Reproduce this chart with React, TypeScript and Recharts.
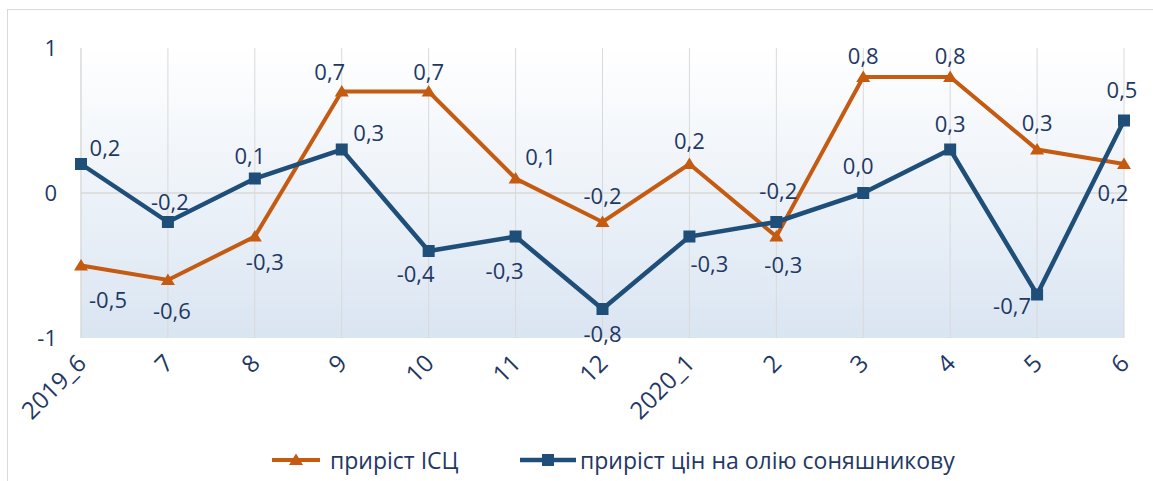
import React from 'react';
import { LineChart, Line, XAxis, YAxis, CartesianGrid, ReferenceLine } from 'recharts';

const categories = ['2019_6', '7', '8', '9', '10', '11', '12', '2020_1', '2', '3', '4', '5', '6'];
const cpiGrowth = [-0.5, -0.6, -0.3, 0.7, 0.7, 0.1, -0.2, 0.2, -0.3, 0.8, 0.8, 0.3, 0.2];
const oilGrowth = [0.2, -0.2, 0.1, 0.3, -0.4, -0.3, -0.8, -0.3, -0.2, 0.0, 0.3, -0.7, 0.5];
const yTicks = [-1, 0, 1];
const seriesNames = ['приріст ІСЦ', 'приріст цін на олію соняшникову'];

// label placement offsets (relative to the point), styling only
const cpiLabelOffsets: [number, number][] = [
  [27, 33], [4, 30], [10, 24], [-12, -21], [0, -21], [25, -23], [0, -27],
  [0, -24], [7, 27], [0, -22], [0, -22], [0, -28], [-11, 28],
];
const oilLabelOffsets: [number, number][] = [
  [24, -17], [2, -21], [-5, -24], [27, -18], [-13, 22], [-11, 33], [0, 24],
  [20, 26], [2, -32], [-5, -28], [0, -27], [-25, 10], [-2, -32],
];

const data = categories.map((c, i) => ({ cat: c, cpi: cpiGrowth[i], oil: oilGrowth[i] }));

const ORANGE = '#C55A11';
const BLUE = '#1F4E79';
const TEXT = '#1F3864';
const FONT = '"Open Sans", sans-serif';

const fmt = (v: number) => v.toFixed(1).replace('.', ',');

const makeLabel = (offsets: [number, number][]) => (props: any) => {
  const { x, y, value, index } = props;
  const [dx, dy] = offsets[index] || [0, -20];
  return (
    <text x={x + dx} y={y + dy} textAnchor="middle" dominantBaseline="central"
      fontSize={22} fill={TEXT} fontFamily={FONT}>
      {fmt(value)}
    </text>
  );
};

const Triangle = (props: any) => {
  const { cx, cy } = props;
  if (cx == null || cy == null) return null;
  return <path d={`M${cx},${cy - 6.5} L${cx + 7},${cy + 5} L${cx - 7},${cy + 5} Z`} fill={ORANGE} />;
};

const Square = (props: any) => {
  const { cx, cy } = props;
  if (cx == null || cy == null) return null;
  const s = 6;
  return <rect x={cx - s} y={cy - s} width={s * 2} height={s * 2} fill={BLUE} />;
};

const XTick = (props: any) => {
  const { x, y, payload } = props;
  const ax = x;
  const ay = y + 12;
  return (
    <text x={ax} y={ay} textAnchor="end" dominantBaseline="central"
      transform={`rotate(-45 ${ax} ${ay})`} fontSize={24} fill={TEXT} fontFamily={FONT}>
      {payload.value}
    </text>
  );
};

export default function App() {
  return (
    <div style={{ position: 'absolute', left: 0, top: 0, width: 1153, height: 481, overflow: 'hidden', background: '#fff' }}>
      <div style={{ position: 'absolute', left: 7, top: 9, width: 1160, height: 480, border: '1px solid #D9D9D9', boxSizing: 'border-box' }} />
      <LineChart width={1153} height={481} data={data}
        margin={{ top: 48, right: 29, left: 21, bottom: 63 }}>
        <defs>
          <linearGradient id="bgGrad" x1="0" y1="0" x2="0" y2="1">
            <stop offset="0%" stopColor="#FFFFFF" />
            <stop offset="100%" stopColor="#DAE5F2" />
          </linearGradient>
        </defs>
        <CartesianGrid horizontal={false} stroke="#D9D9D9" fill="url(#bgGrad)" fillOpacity={1} />
        <XAxis dataKey="cat" axisLine={false} tickLine={false} height={80} interval={0} tick={<XTick />} />
        <YAxis domain={[-1, 1]} ticks={yTicks} width={60} axisLine={{ stroke: '#D9D9D9' }}
          tickLine={false} tickSize={0} tickMargin={24}
          tick={{ fontSize: 22, fill: TEXT, fontFamily: FONT }} />
        <ReferenceLine y={0} stroke="#D9D9D9" strokeWidth={1.5} />
        <Line dataKey="cpi" stroke={ORANGE} strokeWidth={4} isAnimationActive={false}
          dot={<Triangle />} activeDot={false} label={makeLabel(cpiLabelOffsets)} />
        <Line dataKey="oil" stroke={BLUE} strokeWidth={4.5} isAnimationActive={false}
          dot={<Square />} activeDot={false} label={makeLabel(oilLabelOffsets)} />
      </LineChart>
      <svg style={{ position: 'absolute', left: 272, top: 450 }} width={50} height={20}>
        <line x1={0} y1={10} x2={48} y2={10} stroke={ORANGE} strokeWidth={4} />
        <path d="M24,3.5 L31,15 L17,15 Z" fill={ORANGE} />
      </svg>
      <div style={{ position: 'absolute', left: 330, top: 444, fontFamily: FONT, fontSize: 23, lineHeight: '32px', color: TEXT, whiteSpace: 'nowrap' }}>
        {seriesNames[0]}
      </div>
      <svg style={{ position: 'absolute', left: 520, top: 450 }} width={58} height={20}>
        <line x1={0} y1={10} x2={56} y2={10} stroke={BLUE} strokeWidth={4.5} />
        <rect x={22} y={4} width={12} height={12} fill={BLUE} />
      </svg>
      <div style={{ position: 'absolute', left: 580, top: 444, fontFamily: FONT, fontSize: 23, lineHeight: '32px', color: TEXT, whiteSpace: 'nowrap' }}>
        {seriesNames[1]}
      </div>
    </div>
  );
}
